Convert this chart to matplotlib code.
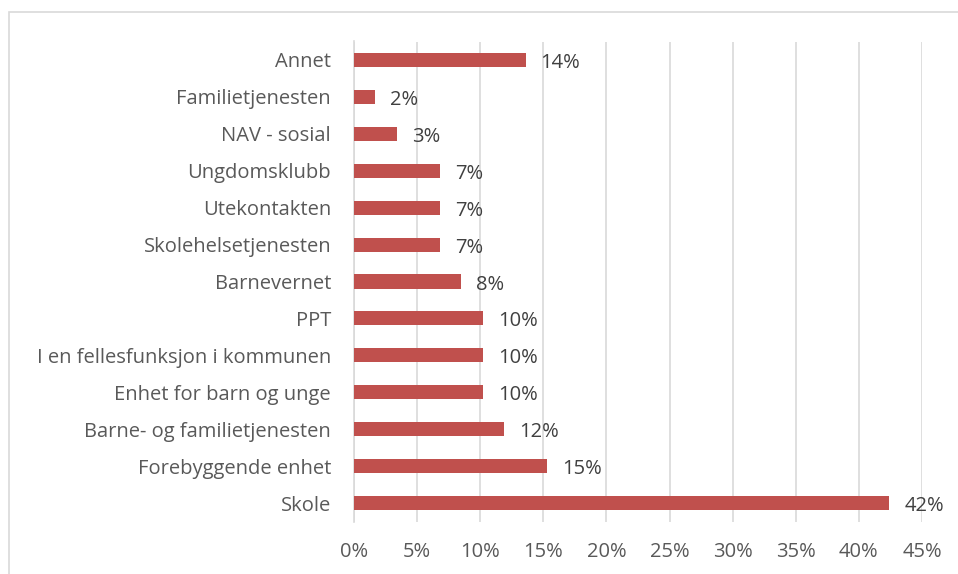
import matplotlib
matplotlib.use('Agg')
import matplotlib.pyplot as plt
from matplotlib.patches import Rectangle
from matplotlib.ticker import FixedLocator

categories = ['Annet', 'Familietjenesten', 'NAV - sosial', 'Ungdomsklubb', 'Utekontakten',
              'Skolehelsetjenesten', 'Barnevernet', 'PPT', 'I en fellesfunksjon i kommunen',
              'Enhet for barn og unge', 'Barne- og familietjenesten', 'Forebyggende enhet', 'Skole']
values = [13.6, 1.7, 3.4, 6.8, 6.8, 6.8, 8.5, 10.2, 10.2, 10.2, 11.9, 15.3, 42.4]
xticks = [0, 5, 10, 15, 20, 25, 30, 35, 40, 45]

plt.rcParams['font.family'] = ['Open Sans', 'DejaVu Sans']
text_col = '#595959'
bar_col = '#C0504D'
fs = 14.5

fig = plt.figure(figsize=(9.58, 5.74), dpi=100)
ax = fig.add_axes([354/958, 1 - 521.5/574, (922-354)/958, (521.5-41.5)/574])

ypos = list(range(len(categories)))[::-1]
ax.barh(ypos, values, height=0.38, color=bar_col, zorder=3)
for y, v in zip(ypos, values) :
    ax.annotate('%d%%' % round(v), (v, y), xytext=(15, -3), textcoords='offset pixels',
                ha='left', va='center', fontsize=fs, color='#404040')

ax.set_ylim(-0.5, len(categories) - 0.5)
ax.set_yticks(ypos)
ax.set_yticklabels(categories, fontsize=fs, color=text_col)
ax.set_xlim(0, 45)
ax.xaxis.set_major_locator(FixedLocator(xticks))
ax.set_xticklabels([str(x) + '%' for x in xticks], fontsize=fs, color=text_col)
ax.tick_params(axis='both', length=0)
ax.tick_params(axis='y', pad=16.5)
ax.tick_params(axis='x', pad=15)
ax.grid(axis='x', color='#D9D9D9', linewidth=1.2, zorder=0)
for s in ['top', 'right', 'bottom'] :
    ax.spines[s].set_visible(False)
ax.spines['left'].set_color('#D9D9D9')
ax.spines['left'].set_linewidth(1.2)

fig.patches.append(Rectangle((9/958, -0.1), 1.2, 1.1 - 12/574, transform=fig.transFigure,
                             fill=False, edgecolor='#D9D9D9', linewidth=1.2))

plt.savefig('out.png', dpi=100)
